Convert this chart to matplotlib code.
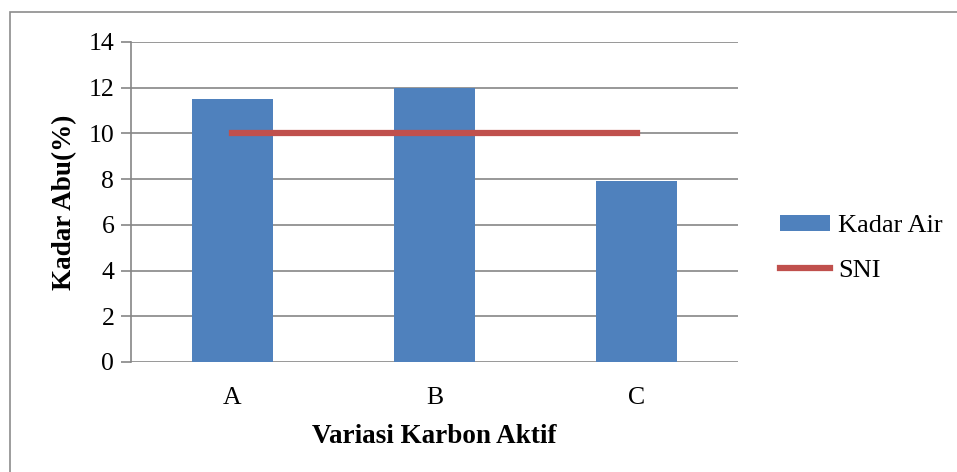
import matplotlib
matplotlib.use("Agg")
import matplotlib.pyplot as plt
from matplotlib.patches import Rectangle

categories = ["A", "B", "C"]
kadar_air = [11.5, 12.0, 7.9]
sni = [10, 10, 10]
yticks = [0, 2, 4, 6, 8, 10, 12, 14]

plt.rcParams['font.family'] = ['Liberation Serif', 'DejaVu Serif']

W, H = 957, 472
fig = plt.figure(figsize=(W/100, H/100), dpi=100)
# plot area in pixels: x 131..738, y 42..362
ax = fig.add_axes([131/W, 1-362/H, (738-131)/W, (362-42)/H])

# outer border
fig.patches.append(Rectangle((10/W, -0.1), 1.2, 1-12/H+0.1, transform=fig.transFigure,
                             fill=False, edgecolor='#8c8c8c', linewidth=1.2, zorder=5))

x = list(range(len(categories)))
bars = ax.bar(x, kadar_air, width=0.4, color='#4F81BD', label='Kadar Air', zorder=3)
line, = ax.plot(x, sni, color='#C0504D', linewidth=4.5, label='SNI', zorder=4)

ax.set_xlim(-0.5, 2.5)
ax.set_ylim(0, 14)
ax.set_yticks(yticks)
ax.set_xticks(x)
ax.set_xticklabels(categories)
ax.yaxis.grid(True, color='#868686', linewidth=1.2, zorder=1)
ax.set_axisbelow(True)
ax.patch.set_alpha(0)
for s in ['top', 'right', 'bottom']:
    ax.spines[s].set_visible(False)
ax.spines['left'].set_color('#868686')
ax.spines['left'].set_linewidth(1.2)
ax.tick_params(axis='y', length=7, color='#868686', width=1.2, labelsize=18.5, pad=5)
ax.tick_params(axis='x', length=0, labelsize=18.5, pad=18)

ax.set_ylabel("Kadar Abu(%)", fontsize=19.5, fontweight='bold', labelpad=8)
ax.set_xlabel("Variasi Karbon Aktif", fontsize=19.5, fontweight='bold', labelpad=11)

leg = fig.legend(handles=[bars, line], labels=['Kadar Air', 'SNI'],
                 loc='upper left', bbox_to_anchor=(756/W, 1-191/H), frameon=False,
                 fontsize=19, handlelength=1.9, handleheight=0.55, labelspacing=0.85,
                 handletextpad=0.3)

fig.savefig("out.png", dpi=100)
